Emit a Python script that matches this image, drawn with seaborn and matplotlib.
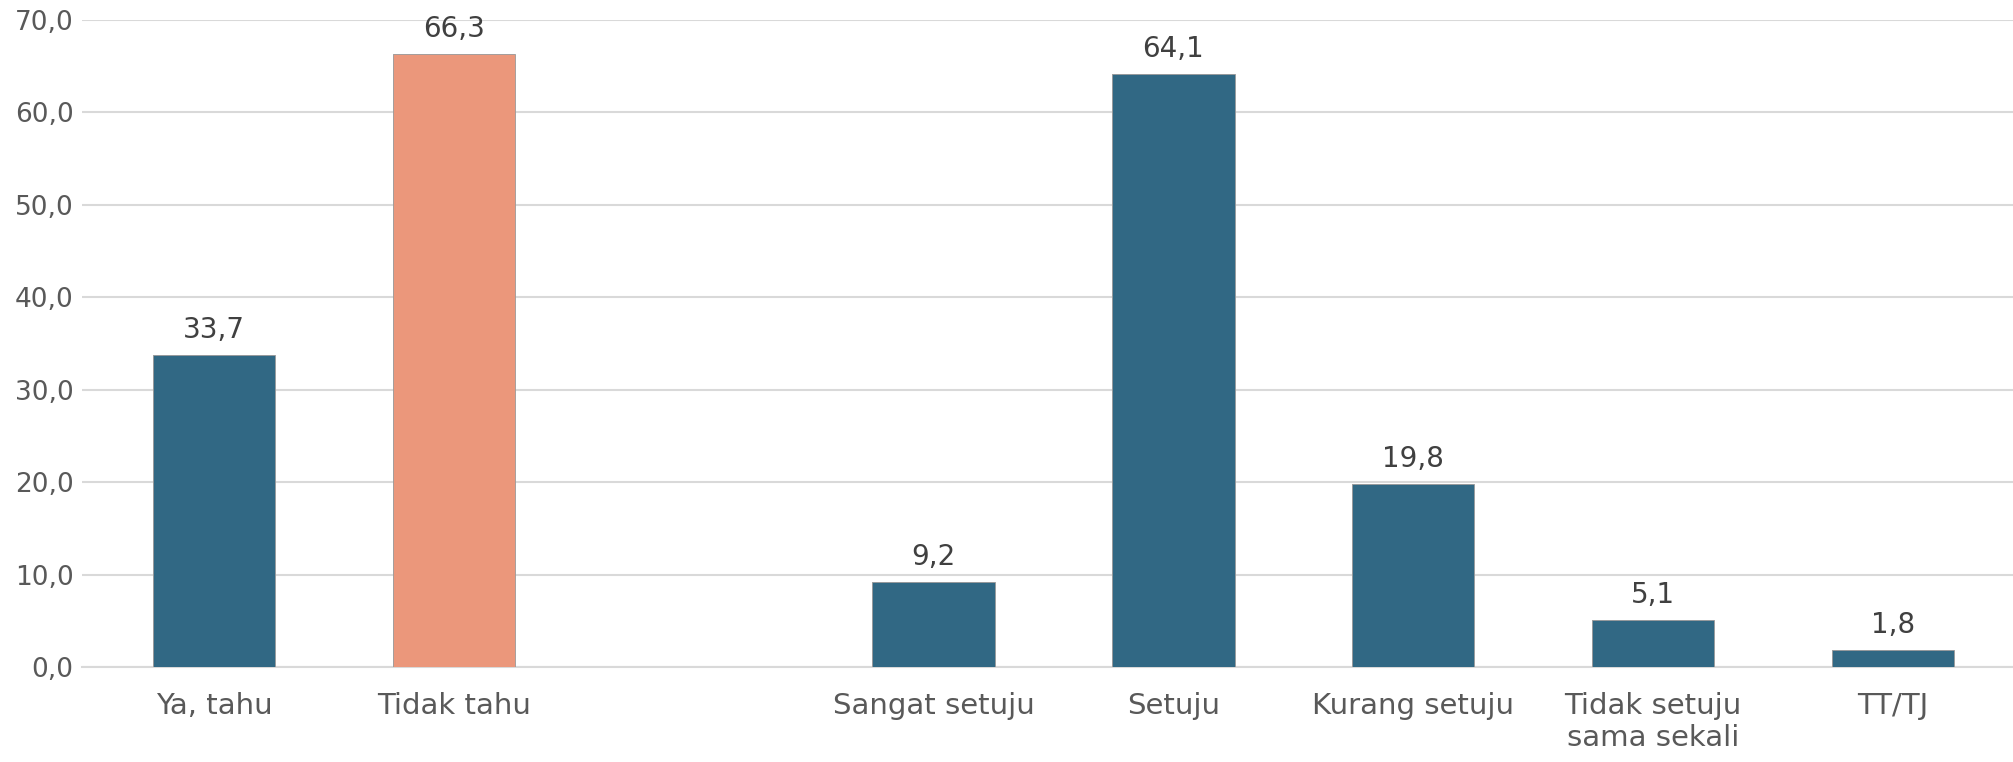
import matplotlib
matplotlib.use("Agg")
import matplotlib.pyplot as plt
import matplotlib.patheffects as pe
import seaborn as sns
import pandas as pd

# Chart data
categories = ["Ya, tahu", "Tidak tahu", "Sangat setuju", "Setuju",
              "Kurang setuju", "Tidak setuju\nsama sekali", "TT/TJ"]
values = [33.7, 66.3, 9.2, 64.1, 19.8, 5.1, 1.8]
# empty slot separating the two questions
order = ["Ya, tahu", "Tidak tahu", " ", "Sangat setuju", "Setuju",
         "Kurang setuju", "Tidak setuju\nsama sekali", "TT/TJ"]
yticks = [0, 10, 20, 30, 40, 50, 60, 70]

BLUE = "#316884"
SALMON = "#EB977B"
palette = {c: BLUE for c in categories}
palette["Tidak tahu"] = SALMON

sns.set_theme(style="white")
plt.rcParams['font.family'] = ['DejaVu Sans']

df = pd.DataFrame({"kategori": categories, "persen": values})

fig = plt.figure(figsize=(20.13, 7.62), dpi=100)
ax = fig.add_axes([0.0407, 0.1247, 0.9593, 0.8493])

sns.barplot(data=df, x="kategori", y="persen", order=order, hue="kategori",
            palette=palette, saturation=1, legend=False, width=0.51, ax=ax,
            edgecolor="#9a9a9a", linewidth=0.6, zorder=3)

# soft shadow around bars
for bar in ax.patches:
    bar.set_path_effects([pe.SimplePatchShadow(offset=(0, 0), shadow_rgbFace="#b0b0b0", alpha=0.5),
                          pe.Normal()])

# value labels
for cont in ax.containers:
    for bar in cont:
        h = bar.get_height()
        if pd.isna(h) or h == 0:
            continue
        ax.annotate(f"{h:.1f}".replace(".", ","),
                    (bar.get_x() + bar.get_width() / 2, h),
                    xytext=(0, 8), textcoords="offset points",
                    ha="center", va="bottom", fontsize=20, color="#404040")

ax.set_ylim(0, 70)
ax.set_xlim(-0.55, 7.5)
ax.set_yticks(yticks)
ax.set_yticklabels([f"{t:.1f}".replace(".", ",") for t in yticks])
ax.yaxis.grid(True, color="#d9d9d9", linewidth=1.5, zorder=0)
ax.set_axisbelow(True)
ax.set_xlabel("")
ax.set_ylabel("")
for s in ["top", "right", "left"]:
    ax.spines[s].set_visible(False)
ax.spines["bottom"].set_color("#d9d9d9")
ax.spines["bottom"].set_linewidth(1.5)
ax.tick_params(axis="x", length=0, pad=18, labelsize=21, labelcolor="#595959")
ax.tick_params(axis="y", length=0, pad=6, labelsize=19, labelcolor="#595959")

fig.savefig("out.png", dpi=100)
